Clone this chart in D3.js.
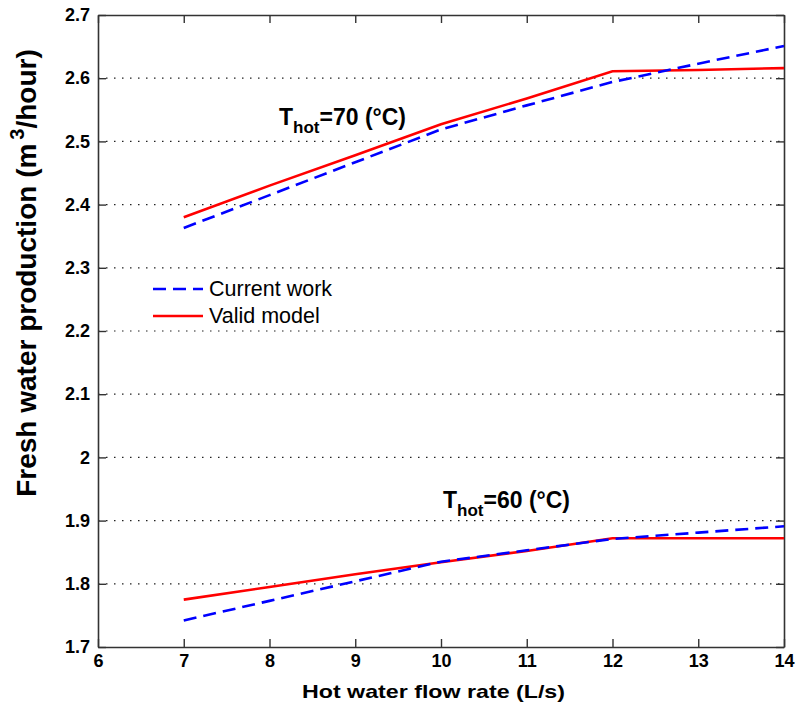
<!DOCTYPE html>
<html>
<head>
  <meta charset="utf-8">
  <title>Fresh water production</title>
  <script src="https://d3js.org/d3.v7.min.js"></script>
  <style>
    body { margin: 0; background: #fff; }
    text { font-family: "Liberation Sans", Arial, sans-serif; }
  </style>
</head>
<body>
<script>
// data
var flowRate = [7, 8, 9, 10, 11, 12, 13, 14];
var current70 = [2.363, 2.415, 2.467, 2.519, 2.557, 2.594, 2.623, 2.651];
var valid70   = [2.380, 2.430, 2.478, 2.527, 2.568, 2.611, 2.613, 2.616];
var current60 = [1.742, 1.773, 1.804, 1.835, 1.853, 1.871, 1.881, 1.891];
var valid60   = [1.775, 1.795, 1.815, 1.834, 1.852, 1.872, 1.872, 1.872];
var xTicks = [6, 7, 8, 9, 10, 11, 12, 13, 14];
var yTicks = [1.7, 1.8, 1.9, 2, 2.1, 2.2, 2.3, 2.4, 2.5, 2.6, 2.7];

var width = 795, height = 715;
var plotL = 98, plotR = 784, plotT = 15, plotB = 647;

var svg = d3.select("body").append("svg").attr("width", width).attr("height", height);

var x = d3.scaleLinear().domain([6, 14]).range([plotL, plotR]);
var y = d3.scaleLinear().domain([1.7, 2.7]).range([plotB, plotT]);

// dotted grid
svg.append("g").selectAll("line")
  .data(yTicks.filter(function(d) { return d > 1.7 && d < 2.7; }))
  .enter().append("line")
  .attr("x1", plotL).attr("x2", plotR)
  .attr("y1", function(d) { return y(d); }).attr("y2", function(d) { return y(d); })
  .attr("stroke", "#222").attr("stroke-width", 1.2)
  .attr("stroke-dasharray", "1.5,6.5");

// axes (ticks pointing inward)
var xAxis = svg.append("g").attr("transform", "translate(0," + plotB + ")")
  .call(d3.axisBottom(x).tickValues(xTicks).tickSizeInner(-8).tickSizeOuter(0).tickFormat(d3.format("d")));
var xTop = svg.append("g").attr("transform", "translate(0," + plotT + ")")
  .call(d3.axisTop(x).tickValues(xTicks).tickSizeInner(-8).tickSizeOuter(0).tickFormat(""));
var yAxis = svg.append("g").attr("transform", "translate(" + plotL + ",0)")
  .call(d3.axisLeft(y).tickValues(yTicks).tickSizeInner(-8).tickSizeOuter(0).tickFormat(d3.format("~g")));
var yRight = svg.append("g").attr("transform", "translate(" + plotR + ",0)")
  .call(d3.axisRight(y).tickValues(yTicks).tickSizeInner(-8).tickSizeOuter(0).tickFormat(""));

[xAxis, xTop, yAxis, yRight].forEach(function(g) {
  g.select(".domain").attr("stroke", "#333").attr("stroke-width", 1.6);
  g.selectAll(".tick line").attr("stroke", "#333").attr("stroke-width", 1.4);
  g.selectAll(".tick text").attr("fill", "#000").attr("font-size", 18).attr("font-weight", "bold")
    .style("font-family", "'Liberation Sans', Arial, sans-serif");
});
xAxis.selectAll(".tick text").attr("y", 20).attr("dy", "0");
yAxis.selectAll(".tick text").attr("x", -8);

// lines
var line = d3.line()
  .x(function(d, i) { return x(flowRate[i]); })
  .y(function(d) { return y(d); });

function drawSeries(vals, color, dash) {
  svg.append("path").datum(vals)
    .attr("d", line)
    .attr("fill", "none")
    .attr("stroke", color)
    .attr("stroke-width", 2.6)
    .attr("stroke-dasharray", dash);
}
drawSeries(valid70, "#ff0000", null);
drawSeries(current70, "#0000ff", "13,7");
drawSeries(valid60, "#ff0000", null);
drawSeries(current60, "#0000ff", "13,7");

// annotations
function annot(px, py, temp) {
  var t = svg.append("text").attr("x", px).attr("y", py)
    .attr("font-size", 23).attr("font-weight", "bold");
  t.append("tspan").text("T");
  t.append("tspan").attr("font-size", 17).attr("dy", 8).text("hot");
  t.append("tspan").attr("dy", -8).text("=" + temp + " (°C)");
}
annot(279, 125, 70);
annot(443, 508, 60);

// legend
var legend = [
  { name: "Current work", color: "#0000ff", dash: "13,7", y: 289 },
  { name: "Valid model", color: "#ff0000", dash: null, y: 316 }
];
legend.forEach(function(d) {
  svg.append("line").attr("x1", 153).attr("x2", 203).attr("y1", d.y).attr("y2", d.y)
    .attr("stroke", d.color).attr("stroke-width", 2.6).attr("stroke-dasharray", d.dash);
  svg.append("text").attr("x", 209).attr("y", d.y + 7)
    .attr("font-size", 21.5).text(d.name);
});

// axis titles
svg.append("text").attr("x", 302).attr("y", 698)
  .attr("font-size", 19).attr("font-weight", "bold")
  .attr("textLength", 263).attr("lengthAdjust", "spacingAndGlyphs")
  .text("Hot water flow rate (L/s)");

var yl = svg.append("text").attr("transform", "translate(36,273) rotate(-90)")
  .attr("text-anchor", "middle").attr("font-size", 28).attr("font-weight", "bold");
yl.append("tspan").text("Fresh water production (m");
yl.append("tspan").attr("font-size", 20).attr("dy", -12).attr("dx", 4).text("3");
yl.append("tspan").attr("dy", 12).text("/hour)");
</script>
</body>
</html>
